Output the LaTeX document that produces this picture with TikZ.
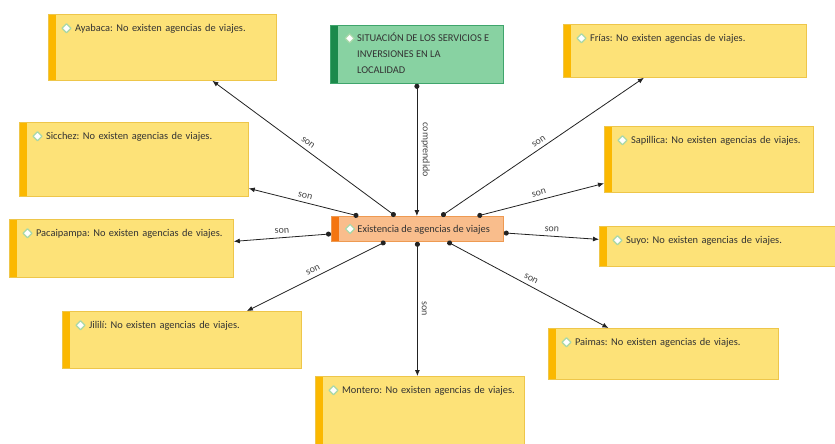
\documentclass[tikz,border=0pt]{standalone}
\usepackage{fontspec}
\setmainfont{Carlito}
\usetikzlibrary{arrows.meta}
\frenchspacing

\definecolor{zonafondo}{HTML}{FDE278}
\definecolor{zonaborde}{HTML}{EEC64A}
\definecolor{zonabanda}{HTML}{FBB800}
\definecolor{temafondo}{HTML}{88D2A2}
\definecolor{temaborde}{HTML}{3FA56C}
\definecolor{temabanda}{HTML}{1B8A4B}
\definecolor{nucleofondo}{HTML}{F9BD8C}
\definecolor{nucleoborde}{HTML}{EE9A52}
\definecolor{nucleobanda}{HTML}{F47510}
\definecolor{linea}{HTML}{222222}
\definecolor{texto}{HTML}{333333}
\definecolor{rotulo}{HTML}{444444}
\definecolor{iconoverde}{HTML}{A8D8A8}

\newcommand{\icono}{\tikz[baseline=-3.2pt]\draw[iconoverde, fill=white, line width=1.2pt, line join=round] (0pt,0pt) -- (4.5pt,4.5pt) -- (9pt,0pt) -- (4.5pt,-4.5pt) -- cycle;}
\newcommand{\lugar}[1]{\mbox{\icono\ #1}}

\tikzset{
  caja/.style={anchor=north west, text=texto, font=\fontsize{10.4}{13}\selectfont,
    path picture={\fill[#1] (path picture bounding box.south west) rectangle ([xshift=8pt]path picture bounding box.north west);}},
  zona/.style={caja=zonabanda, draw=zonaborde, fill=zonafondo, line width=0.8pt,
    inner xsep=13pt, inner ysep=0pt, text height=17pt, align=left},
  tema/.style={caja=temabanda, draw=temaborde, fill=temafondo, line width=0.8pt,
    minimum width=173pt, minimum height=58pt},
  nucleo/.style={caja=nucleobanda, draw=nucleoborde, fill=nucleofondo, line width=0.8pt,
    minimum width=172pt, minimum height=25pt},
  enlace/.style={draw=linea, line width=0.8pt, {Circle[length=5pt]}-{Latex[length=6pt,width=5pt]}},
  etiqueta/.style={font=\fontsize{10}{11}\selectfont, text=rotulo, sloped, above=3pt, inner sep=1pt}
}

\begin{document}
\begin{tikzpicture}[x=1pt,y=-1pt]
  \useasboundingbox (0,0) rectangle (835,444);

  % Tema y nucleo
  \node[tema] (sit) at (330,25)
    {\icono\ {\def\arraystretch{1.23}\begin{tabular}[t]{@{}l@{}}SITUACIÓN DE LOS SERVICIOS E\\INVERSIONES EN LA\\LOCALIDAD\end{tabular}}};
  \node[nucleo] (centro) at (331,216) {\icono\ Existencia de agencias de viajes};

  % Localidades, lado izquierdo
  \node[zona, text width=202pt, text depth=49pt] (aya) at (48,14) {\lugar{Ayabaca: No existen agencias de viajes.}};
  \node[zona, text width=203pt, text depth=57pt] (sic) at (19,122) {\lugar{Sicchez: No existen agencias de viajes.}};
  \node[zona, text width=198pt, text depth=41pt] (pac) at (9,219) {\lugar{Pacaipampa: No existen agencias de viajes.}};
  \node[zona, text width=213pt, text depth=40pt] (jil) at (62,311) {\lugar{Jililí: No existen agencias de viajes.}};
  \node[zona, text width=183pt, text depth=53pt] (mon) at (315,376) {\lugar{Montero: No existen agencias de viajes.}};

  % Localidades, lado derecho
  \node[zona, text width=217pt, text depth=36pt] (fri) at (563,24) {\lugar{Frías: No existen agencias de viajes.}};
  \node[zona, text width=183pt, text depth=49pt] (sap) at (604,126) {\lugar{Sapillica: No existen agencias de viajes.}};
  \node[zona, text width=214pt, text depth=23pt] (suy) at (599,226) {\lugar{Suyo: No existen agencias de viajes.}};
  \node[zona, text width=204pt, text depth=34pt] (pai) at (548,328) {\lugar{Paimas: No existen agencias de viajes.}};

  % Enlaces
  \draw[enlace] (sit.south) -- node[etiqueta] {comprendido} (sit.south |- centro.north);
  \draw[enlace] ([xshift=-22pt]centro.north) -- node[etiqueta] {son} ([xshift=50pt]aya.south);
  \draw[enlace] ([xshift=-59pt]centro.north) -- node[etiqueta] {son} ([yshift=-29pt]sic.east);
  \draw[enlace] ([yshift=-5pt]centro.west) -- node[etiqueta] {son} ([yshift=7pt]pac.east);
  \draw[enlace] ([xshift=-32pt]centro.south) -- node[etiqueta] {son} ([xshift=65pt]jil.north);
  \draw[enlace] (centro.south) -- node[etiqueta] {son} (centro.south |- mon.north);
  \draw[enlace] ([xshift=30pt]centro.south) -- node[etiqueta] {son} ([xshift=-55pt]pai.north);
  \draw[enlace] ([yshift=-4pt]centro.east) -- node[etiqueta] {son} ([yshift=7pt]suy.west);
  \draw[enlace] ([xshift=60pt]centro.north) -- node[etiqueta] {son} ([yshift=-24pt]sap.west);
  \draw[enlace] ([xshift=24pt]centro.north) -- node[etiqueta] {son} ([xshift=-41pt]fri.south);
\end{tikzpicture}
\end{document}
